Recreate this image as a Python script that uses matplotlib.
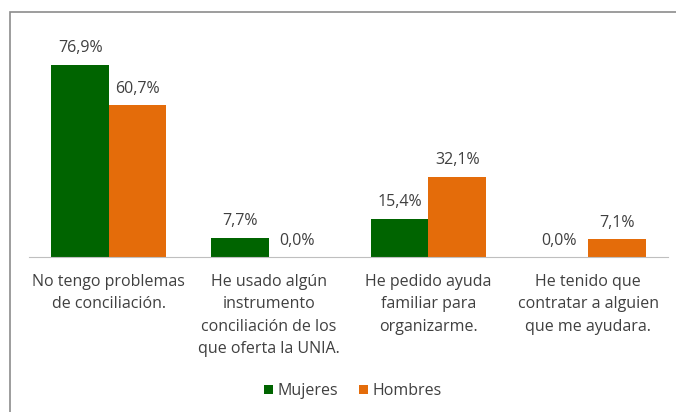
import matplotlib
matplotlib.use("Agg")
import matplotlib.pyplot as plt
import numpy as np
from matplotlib.patches import Rectangle, Patch

categories = ["No tengo problemas\nde conciliación.",
              "He usado algún\ninstrumento\nconciliación de los\nque oferta la UNIA.",
              "He pedido ayuda\nfamiliar para\norganizarme.",
              "He tenido que\ncontratar a alguien\nque me ayudara."]
series_names = ["Mujeres", "Hombres"]
mujeres = [76.9, 7.7, 15.4, 0.0]
hombres = [60.7, 0.0, 32.1, 7.1]
colors = ["#006400", "#E46C0A"]

plt.rcParams['font.family'] = ['Open Sans', 'DejaVu Sans']

W, H = 676, 412
fig = plt.figure(figsize=(W/100, H/100), dpi=100)
fig.patch.set_facecolor("white")
fig.add_artist(Rectangle((10/W, -0.1), 1.1, (H-12)/H + 0.1, transform=fig.transFigure,
                         fill=False, edgecolor="#8c8c8c", linewidth=1.2))

ax = fig.add_axes([29/W, (H-257)/H, (668-29)/W, 230/H])
x = np.arange(len(categories))
bw = 0.36
for i, (vals, c) in enumerate(zip([mujeres, hombres], colors)):
    pos = x + (i - 0.5) * bw
    ax.bar(pos, vals, bw, color=c, label=series_names[i])
    for p, v in zip(pos, vals):
        ax.text(p, v + 3.4, f"{v:.1f}%".replace(".", ","), ha="center", va="bottom",
                fontsize=11.5, color="#404040")

ax.set_xlim(-0.5, 3.5)
ax.set_ylim(0, 230/2.497)
for s in ["top", "left", "right"]:
    ax.spines[s].set_visible(False)
ax.spines["bottom"].set_color("#bfbfbf")
ax.set_yticks([])
ax.set_xticks(x)
ax.set_xticklabels(categories, fontsize=11.5, color="#404040", linespacing=1.55)
ax.tick_params(axis="x", length=0, pad=12)

handles = [Patch(facecolor=c, label=n) for c, n in zip(colors, series_names)]
fig.legend(handles=handles, loc="center", bbox_to_anchor=(353/W, 1 - 391/H), ncol=2,
           frameon=False, fontsize=11.5, handlelength=0.55, handleheight=0.55,
           handletextpad=0.3, columnspacing=1.3, labelcolor="#404040")

fig.savefig("out.png", dpi=100, facecolor="white")
